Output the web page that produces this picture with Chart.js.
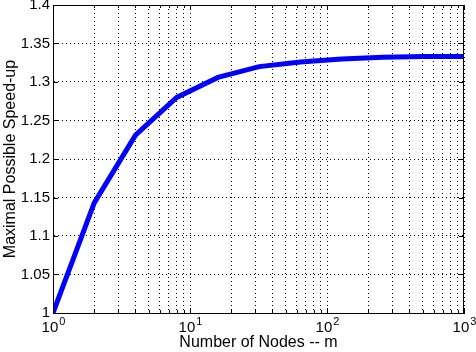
<!DOCTYPE html>
<html>
<head>
<meta charset="utf-8">
<script src="https://cdn.jsdelivr.net/npm/chart.js@4.4.0/dist/chart.umd.min.js"></script>
<style>
  html, body { margin: 0; padding: 0; background: #fff; }
  #wrap { width: 476px; height: 352px; }
</style>
</head>
<body>
<div id="wrap"><canvas id="myChart" width="476" height="352"></canvas></div>
<script>
// number of nodes m and the speed-up
const nodes = [1, 2, 4, 8, 16, 32, 64, 128, 256, 512, 1000];
const speedup = [1.0, 1.143, 1.231, 1.28, 1.306, 1.32, 1.326, 1.33, 1.332, 1.333, 1.333];
const xTickValues = [1, 2, 3, 4, 5, 6, 7, 8, 9, 10, 20, 30, 40, 50, 60, 70, 80, 90,
  100, 200, 300, 400, 500, 600, 700, 800, 900, 1000];
const xMajor = [1, 10, 100, 1000];
const xExponents = ['0', '1', '2', '3'];
const yTickValues = [1, 1.05, 1.1, 1.15, 1.2, 1.25, 1.3, 1.35, 1.4];

const family = "'Liberation Sans', Arial, sans-serif";
const tickFont = { family: family, size: 15 };
const titleFont = { family: family, size: 16, lineHeight: 1 };

// black frame, inward tick marks and the 10^n labels under the x axis
const boxPlugin = {
    id: 'box',
    afterDraw(chart) {
        const a = chart.chartArea;
        const c = chart.ctx;
        const xs = chart.scales.x;
        const ys = chart.scales.y;
        c.save();
        c.strokeStyle = '#000';
        c.lineWidth = 1;
        c.strokeRect(a.left + 0.5, a.top + 0.5, a.right - a.left - 1, a.bottom - a.top);
        c.beginPath();
        yTickValues.forEach(v => {
            const y = Math.round(ys.getPixelForValue(v)) + 0.5;
            c.moveTo(a.left, y); c.lineTo(a.left + 5, y);
            c.moveTo(a.right, y); c.lineTo(a.right - 5, y);
        });
        xTickValues.forEach(v => {
            const x = Math.round(xs.getPixelForValue(v)) + 0.5;
            const len = xMajor.includes(v) ? 5 : 3;
            c.moveTo(x, a.bottom); c.lineTo(x, a.bottom - len);
            c.moveTo(x, a.top); c.lineTo(x, a.top + len);
        });
        c.stroke();

        c.fillStyle = '#000';
        c.textBaseline = 'alphabetic';
        c.textAlign = 'left';
        xMajor.forEach((v, i) => {
            const x = xs.getPixelForValue(v);
            c.font = '15px ' + family;
            const w1 = c.measureText('10').width;
            c.font = '11px ' + family;
            const w2 = c.measureText(xExponents[i]).width;
            const x0 = x - (w1 + w2) / 2;
            c.font = '15px ' + family;
            c.fillText('10', x0, 332);
            c.font = '11px ' + family;
            c.fillText(xExponents[i], x0 + w1 + 1, 325);
        });
        c.restore();
    }
};

const ctx = document.getElementById('myChart');
const myChart = new Chart(ctx, {
    type: 'line',
    data: {
        datasets: [{
            label: 'Maximal Possible Speed-up',
            data: nodes.map((m, i) => ({ x: m, y: speedup[i] })),
            borderColor: 'rgb(0, 0, 255)',
            borderWidth: 5,
            pointRadius: 0,
            fill: false,
            tension: 0
        }]
    },
    options: {
        responsive: false,
        animation: false,
        layout: { padding: { top: 5, right: 12, left: 0, bottom: 0 } },
        plugins: { legend: { display: false }, tooltip: { enabled: false } },
        scales: {
            x: {
                type: 'logarithmic',
                min: 1,
                max: 1000,
                afterBuildTicks: (s) => { s.ticks = xTickValues.map(v => ({ value: v })); },
                afterFit: (s) => { s.height = 39; s.paddingLeft = 0; s.paddingRight = 0; },
                ticks: { display: false, autoSkip: false },
                grid: {
                    color: '#000',
                    lineWidth: 1,
                    drawTicks: false
                },
                border: { display: true, color: '#000', dash: [1, 3] },
                title: {
                    display: true,
                    text: 'Number of Nodes -- m',
                    color: '#000',
                    font: titleFont,
                    padding: { top: 0, bottom: 1 }
                }
            },
            y: {
                min: 1,
                max: 1.4,
                afterBuildTicks: (s) => { s.ticks = yTickValues.map(v => ({ value: v })); },
                afterFit: (s) => { s.width = 53; s.paddingTop = 0; s.paddingBottom = 0; },
                ticks: {
                    color: '#000',
                    font: tickFont,
                    padding: 3,
                    callback: (v) => String(+v.toFixed(2))
                },
                grid: {
                    color: '#000',
                    lineWidth: 1,
                    drawTicks: false
                },
                border: { display: true, color: '#000', dash: [1, 3] },
                title: {
                    display: true,
                    text: 'Maximal Possible Speed-up',
                    color: '#000',
                    font: titleFont,
                    padding: { top: 3, bottom: 0 }
                }
            }
        }
    },
    plugins: [boxPlugin]
});
</script>
</body>
</html>
